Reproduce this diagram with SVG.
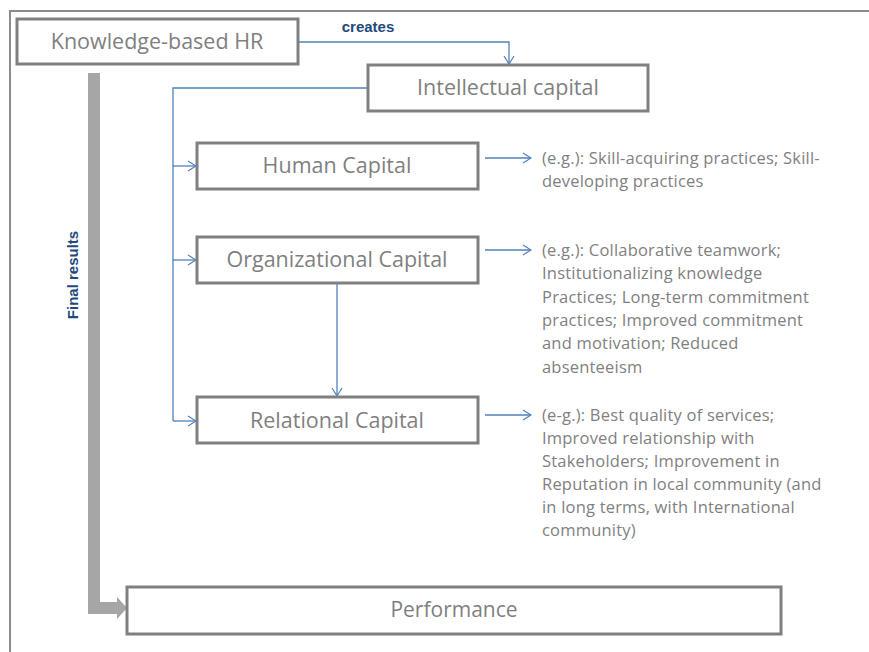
<svg xmlns="http://www.w3.org/2000/svg" width="869" height="652" viewBox="0 0 869 652">
<defs>
<marker id="arr" markerWidth="10" markerHeight="12" refX="9" refY="6" orient="auto" markerUnits="userSpaceOnUse">
<path d="M1,1 L9,6 L1,11" fill="none" stroke="#4f81bd" stroke-width="1.2"/>
</marker>
<style>
.box{fill:#ffffff;stroke:#808080;stroke-width:3}
.lbl{font-family:"Open Sans","Liberation Sans",sans-serif;fill:#7f7f7f;text-anchor:middle;font-size:21.5px}
.side{font-family:"Open Sans","Liberation Sans",sans-serif;fill:#7f7f7f;font-size:16.5px;letter-spacing:0.2px}
.con{fill:none;stroke:#4f81bd;stroke-width:1.3}
.bold{font-family:"Liberation Sans",Arial,sans-serif;font-weight:bold;fill:#1f497d;font-size:15px}
</style>
</defs>
<rect x="10" y="11" width="900" height="700" fill="none" stroke="#8c8c8c" stroke-width="2"/>
<g id="connectors">
<polyline class="con" points="298,42 509,42 509,64" marker-end="url(#arr)"/>
<polyline class="con" points="368,88 173,88 173,421"/>
<line class="con" x1="173" y1="166" x2="196" y2="166" marker-end="url(#arr)"/>
<line class="con" x1="173" y1="260" x2="196" y2="260" marker-end="url(#arr)"/>
<line class="con" x1="173" y1="421" x2="196" y2="421" marker-end="url(#arr)"/>
<line class="con" x1="337" y1="283" x2="337" y2="396" marker-end="url(#arr)"/>
<line class="con" x1="485" y1="158" x2="531" y2="158" marker-end="url(#arr)"/>
<line class="con" x1="485" y1="250" x2="531" y2="250" marker-end="url(#arr)"/>
<line class="con" x1="485" y1="415" x2="531" y2="415" marker-end="url(#arr)"/>
<polygon points="88,73 100,73 100,602 117,602 117,597 127,608 117,619 117,614 88,614" fill="#a6a6a6"/>
<text class="bold" x="368" y="32" text-anchor="middle">creates</text>
<text class="bold" x="78" y="275" text-anchor="middle" transform="rotate(-90 78 275)">Final results</text>
</g>
<g id="knowledge-hr">
<rect class="box" x="17" y="19" width="281" height="45"/>
<text class="lbl" x="157" y="49">Knowledge-based HR</text>
</g>
<g id="intellectual-capital">
<rect class="box" x="368" y="65" width="280" height="46"/>
<text class="lbl" x="508" y="95">Intellectual capital</text>
</g>
<g id="human-capital">
<rect class="box" x="197" y="143" width="281" height="46"/>
<text class="lbl" x="337" y="173">Human Capital</text>
</g>
<g id="organizational-capital">
<rect class="box" x="197" y="237" width="281" height="46"/>
<text class="lbl" x="337" y="267">Organizational Capital</text>
</g>
<g id="relational-capital">
<rect class="box" x="197" y="397" width="281" height="46"/>
<text class="lbl" x="337" y="428">Relational Capital</text>
</g>
<g id="performance">
<rect class="box" x="127" y="587" width="654" height="47"/>
<text class="lbl" x="454" y="617" style="font-size:21px">Performance</text>
</g>
<g id="human-examples">
<text class="side" x="542" y="164">(e.g.): Skill-acquiring practices; Skill-</text>
<text class="side" x="542" y="187">developing practices</text>
</g>
<g id="organizational-examples">
<text class="side" x="542" y="256">(e.g.): Collaborative teamwork;</text>
<text class="side" x="542" y="279">Institutionalizing knowledge</text>
<text class="side" x="542" y="302.5">Practices; Long-term commitment</text>
<text class="side" x="542" y="326">practices; Improved commitment</text>
<text class="side" x="542" y="349">and motivation; Reduced</text>
<text class="side" x="542" y="372.5">absenteeism</text>
</g>
<g id="relational-examples">
<text class="side" x="542" y="421">(e-g.): Best quality of services;</text>
<text class="side" x="542" y="444">Improved relationship with</text>
<text class="side" x="542" y="467">Stakeholders; Improvement in</text>
<text class="side" x="542" y="490">Reputation in local community (and</text>
<text class="side" x="542" y="513">in long terms, with International</text>
<text class="side" x="542" y="536">community)</text>
</g>
</svg>
